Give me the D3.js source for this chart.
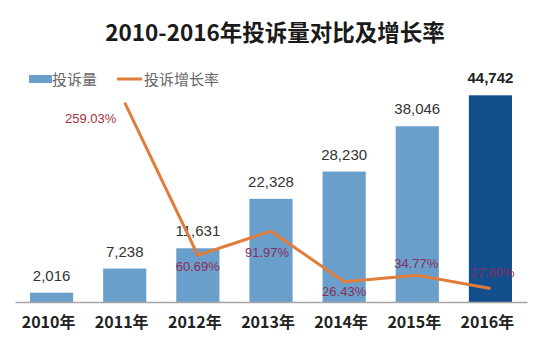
<!DOCTYPE html>
<html>
<head>
<meta charset="utf-8">
<script src="https://cdn.jsdelivr.net/npm/d3@7/dist/d3.min.js"></script>
<style>
  html, body { margin: 0; padding: 0; background: #fff; }
  svg { display: block; }
</style>
</head>
<body>
<svg id="chart" width="550" height="348"></svg>
<script>
// Complaint volume per year and year-on-year growth rate
const years = ["2010年", "2011年", "2012年", "2013年", "2014年", "2015年", "2016年"];
const complaints = [2016, 7238, 11631, 22328, 28230, 38046, 44742];
const growthYears = ["2011年", "2012年", "2013年", "2014年", "2015年", "2016年"];
const growthRates = [259.03, 60.69, 91.97, 26.43, 34.77, 17.60];

// Placement of each growth label relative to its point (dx, dy of the baseline)
const rateLabelOffsets = [[-34, 20], [0, 16], [-4, 26], [0, 14], [-1, -7], [2, -11]];

const svg = d3.select("#chart");
const cjk = "'Noto Sans CJK SC', 'Noto Sans', sans-serif";
const latin = "'Liberation Sans', Arial, sans-serif";

const x = d3.scaleBand()
  .domain(years)
  .range([15, 527])
  .paddingInner(0.41)
  .paddingOuter(0.205);

const y = d3.scaleLinear().domain([0, 50000]).range([302, 71]);
const yRate = d3.scaleLinear().domain([0, 300]).range([302, 71]);

// Title
svg.append("text")
  .attr("x", 275)
  .attr("y", 41)
  .attr("text-anchor", "middle")
  .attr("font-family", cjk)
  .attr("font-weight", "bold")
  .attr("font-size", 22.5)
  .attr("fill", "#1a1a1a")
  .text("2010-2016年投诉量对比及增长率");

// Legend
const legend = svg.append("g").attr("font-family", cjk).attr("font-size", 15).attr("fill", "#666");
legend.append("rect").attr("x", 29).attr("y", 75).attr("width", 23).attr("height", 8).attr("fill", "#6a9fcb");
legend.append("text").attr("x", 52).attr("y", 85).text("投诉量");
legend.append("line").attr("x1", 117).attr("x2", 142).attr("y1", 79).attr("y2", 79)
  .attr("stroke", "#e07d3c").attr("stroke-width", 3);
legend.append("text").attr("x", 144).attr("y", 85).text("投诉增长率");

// Bars
svg.append("g")
  .selectAll("rect")
  .data(complaints)
  .join("rect")
  .attr("x", (d, i) => x(years[i]))
  .attr("y", d => y(d))
  .attr("width", x.bandwidth())
  .attr("height", d => y(0) - y(d))
  .attr("fill", (d, i) => i === years.length - 1 ? "#134f8d" : "#6a9fcb");

// Bar value labels
svg.append("g")
  .selectAll("text")
  .data(complaints)
  .join("text")
  .attr("x", (d, i) => x(years[i]) + x.bandwidth() / 2)
  .attr("y", d => y(d) - 12)
  .attr("text-anchor", "middle")
  .attr("font-family", latin)
  .attr("font-size", 15)
  .attr("font-weight", (d, i) => i === years.length - 1 ? "bold" : "normal")
  .attr("fill", (d, i) => i === years.length - 1 ? "#222" : "#333")
  .text(d => d3.format(",")(d));

// X axis
const xAxis = svg.append("g")
  .attr("transform", `translate(0,${y(0)})`)
  .call(d3.axisBottom(x).tickSize(0).tickPadding(15));
xAxis.select(".domain").attr("stroke", "#a6a6a6").attr("stroke-width", 1.5);
xAxis.selectAll("text")
  .attr("font-family", cjk)
  .attr("font-size", 16)
  .attr("font-weight", "bold")
  .attr("fill", "#222")
  .attr("dx", -3);

// Growth rate line
const line = d3.line()
  .x((d, i) => x(growthYears[i]) + x.bandwidth() / 2)
  .y(d => yRate(d));

svg.append("path")
  .datum(growthRates)
  .attr("d", line)
  .attr("fill", "none")
  .attr("stroke", "#e07d3c")
  .attr("stroke-width", 3)
  .attr("stroke-linejoin", "round");

// Growth rate labels
svg.append("g")
  .selectAll("text")
  .data(growthRates)
  .join("text")
  .attr("x", (d, i) => x(growthYears[i]) + x.bandwidth() / 2 + rateLabelOffsets[i][0])
  .attr("y", (d, i) => yRate(d) + rateLabelOffsets[i][1])
  .attr("text-anchor", "middle")
  .attr("font-family", latin)
  .attr("font-size", 13)
  .attr("fill", (d, i) => i === 0 ? "#a8303f" : "#8a2d5a")
  .text(d => d.toFixed(2) + "%");
</script>
</body>
</html>
